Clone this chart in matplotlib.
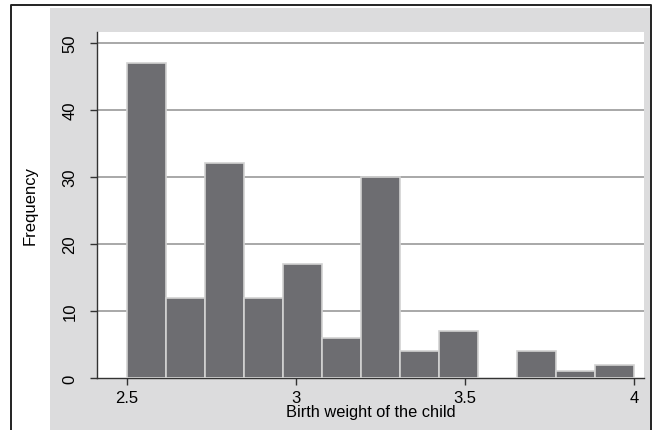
import numpy as np
import matplotlib
matplotlib.use("Agg")
import matplotlib.pyplot as plt
from matplotlib.lines import Line2D
from matplotlib.patches import Rectangle

plt.rcParams['font.family'] = ['Liberation Sans', 'DejaVu Sans']

# histogram counts per bin, birth weight 2.5 to 4
counts = [47, 12, 32, 12, 17, 6, 30, 4, 7, 0, 4, 1, 2]
bin_start = 2.5
bin_end = 4.0
xticks = [2.5, 3, 3.5, 4]
xtick_labels = ["2.5", "3", "3.5", "4"]
yticks = [0, 10, 20, 30, 40, 50]

edges = np.linspace(bin_start, bin_end, len(counts) + 1)
width = edges[1] - edges[0]

fig = plt.figure(figsize=(6.53, 4.31), dpi=100)
fig.patch.set_facecolor('white')

# gray graph region and outer black frame
fig.patches.append(Rectangle((50/653, 0), 601/653, 422/431, transform=fig.transFigure,
                             facecolor='#dcdcdd', edgecolor='none', zorder=-5))
fig.lines.append(Line2D([11/653, 11/653, 651/653, 651/653], [0, 1 - 6/431, 1 - 6/431, 0],
                        transform=fig.transFigure, color='#222222', lw=1.4, zorder=-4))

ax = fig.add_axes([97/653, 1 - 379/431, 547/653, 346/431])
ax.set_zorder(2)
ax.set_facecolor('white')

ax.bar(edges[:-1], counts, width=width, align='edge', color='#6d6d71',
       edgecolor='#d2d2d2', linewidth=1.2, zorder=3)

ax.set_xlim(2.411, 4.03)
ax.set_ylim(0, 51.6)
ax.set_yticks(yticks)
ax.set_yticklabels([str(t) for t in yticks], rotation=90, va='center', fontsize=12)
ax.set_xticks(xticks)
ax.set_xticklabels(xtick_labels, fontsize=12)
for t in yticks[1:]:
    ax.axhline(t, color='#a8a8a8', lw=1.4, zorder=1)

for s in ['top', 'right']:
    ax.spines[s].set_visible(False)
for s in ['left', 'bottom']:
    ax.spines[s].set_color('#333333')
    ax.spines[s].set_linewidth(1.0)
ax.tick_params(direction='out', length=5, width=1, color='#333333')
ax.tick_params(axis='y', pad=9)
ax.tick_params(axis='x', pad=4)

ax.set_xlabel("Birth weight of the child", fontsize=11.8, labelpad=-1)
ax.set_ylabel("Frequency", fontsize=12, labelpad=18)

plt.savefig("out.png", dpi=100)
